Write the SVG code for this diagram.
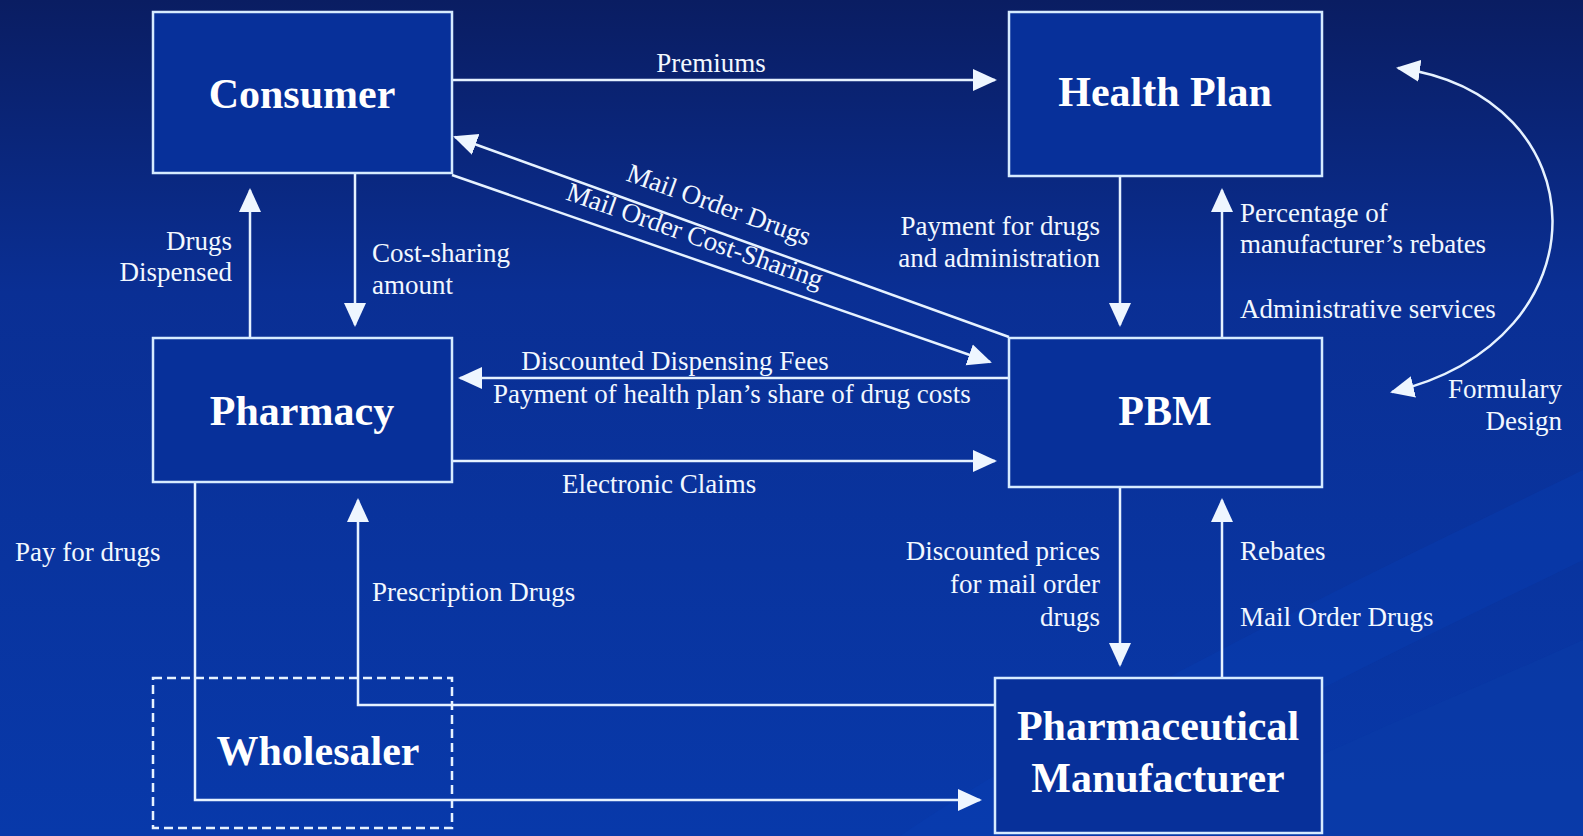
<svg xmlns="http://www.w3.org/2000/svg" width="1583" height="836" viewBox="0 0 1583 836">
<defs>
<linearGradient id="bg" x1="0" y1="0" x2="0" y2="1">
<stop offset="0" stop-color="#0a1d62"/>
<stop offset="0.35" stop-color="#0a2f94"/>
<stop offset="1" stop-color="#0839aa"/>
</linearGradient>
<marker id="ah" viewBox="0 0 24 24" refX="22" refY="12" markerWidth="24" markerHeight="24" markerUnits="userSpaceOnUse" orient="auto-start-reverse">
<path d="M0,1 L24,12 L0,23 Z" fill="#eef6ff"/>
</marker>
<style>
.box{fill:#07309a;stroke:#d6ebff;stroke-width:2.5}
.dash{fill:none;stroke:#e6f2ff;stroke-width:2.5;stroke-dasharray:9 5}
.ln{fill:none;stroke:#e6f2ff;stroke-width:2.5}
.arr{fill:none;stroke:#e6f2ff;stroke-width:2.5;marker-end:url(#ah)}
.ttl{font-family:"Liberation Serif","Times New Roman",serif;font-weight:bold;font-size:42px;fill:#ffffff;text-anchor:middle}
.lbl{font-family:"Liberation Serif","Times New Roman",serif;font-size:27px;fill:#f2f8ff}
.r{text-anchor:end}
.m{text-anchor:middle}
</style>
</defs>
<rect width="1583" height="836" fill="url(#bg)"/>
<path d="M900,836 C1100,700 1400,560 1583,470 L1583,560 C1420,640 1200,740 1080,836 Z" fill="#0a40b4" opacity="0.35"/>
<path d="M1150,836 C1300,760 1450,700 1583,640 L1583,836 Z" fill="#0a3ba8" opacity="0.5"/>

<g id="connectors">
<path class="arr" d="M452,80 H995"/>
<text class="lbl m" x="711" y="72">Premiums</text>

<path class="arr" d="M355,173 V325"/>
<text class="lbl" x="372" y="262">Cost-sharing</text>
<text class="lbl" x="372" y="294">amount</text>

<path class="arr" d="M250,338 V190"/>
<text class="lbl r" x="232" y="250">Drugs</text>
<text class="lbl r" x="232" y="281">Dispensed</text>

<path class="arr" d="M1009,337 L455,137"/>
<text class="lbl m" transform="translate(716,213) rotate(19.85)">Mail Order Drugs</text>

<path class="arr" d="M452,175 L990,362"/>
<text class="lbl m" transform="translate(692,244) rotate(19.4)">Mail Order Cost-Sharing</text>

<path class="arr" d="M1009,378 H460"/>
<text class="lbl m" x="675" y="370">Discounted Dispensing Fees</text>
<text class="lbl" x="493" y="403">Payment of health plan’s share of drug costs</text>

<path class="arr" d="M452,461 H995"/>
<text class="lbl" x="562" y="493">Electronic Claims</text>

<path class="arr" d="M1120,176 V325"/>
<text class="lbl r" x="1100" y="235">Payment for drugs</text>
<text class="lbl r" x="1100" y="267">and administration</text>

<path class="arr" d="M1222,338 V190"/>
<text class="lbl" x="1240" y="222">Percentage of</text>
<text class="lbl" x="1240" y="253">manufacturer’s rebates</text>
<text class="lbl" x="1240" y="318">Administrative services</text>

<path class="ln" d="M1398,68 C1600,95 1610,340 1392,392" marker-start="url(#ah)" marker-end="url(#ah)"/>
<text class="lbl r" x="1562" y="398">Formulary</text>
<text class="lbl r" x="1562" y="430">Design</text>

<path class="arr" d="M1120,487 V665"/>
<text class="lbl r" x="1100" y="560">Discounted prices</text>
<text class="lbl r" x="1100" y="593">for mail order</text>
<text class="lbl r" x="1100" y="626">drugs</text>

<path class="arr" d="M1222,678 V500"/>
<text class="lbl" x="1240" y="560">Rebates</text>
<text class="lbl" x="1240" y="626">Mail Order Drugs</text>

<path class="arr" d="M995,705 H358 V500"/>
<text class="lbl" x="372" y="601">Prescription Drugs</text>

<path class="arr" d="M195,482 V800 H980"/>
<text class="lbl" x="15" y="561">Pay for drugs</text>
</g>

<g id="consumer">
<rect class="box" x="153" y="12" width="299" height="161"/>
<text class="ttl" x="302" y="108">Consumer</text>
</g>
<g id="health-plan">
<rect class="box" x="1009" y="12" width="313" height="164"/>
<text class="ttl" x="1165" y="106">Health Plan</text>
</g>
<g id="pharmacy">
<rect class="box" x="153" y="338" width="299" height="144"/>
<text class="ttl" x="302" y="425">Pharmacy</text>
</g>
<g id="pbm">
<rect class="box" x="1009" y="338" width="313" height="149"/>
<text class="ttl" x="1165" y="425">PBM</text>
</g>
<g id="manufacturer">
<rect class="box" x="995" y="678" width="327" height="155"/>
<text class="ttl" x="1158" y="740">Pharmaceutical</text>
<text class="ttl" x="1158" y="792">Manufacturer</text>
</g>
<g id="wholesaler">
<rect class="dash" x="153" y="678" width="299" height="150"/>
<text class="ttl" x="318" y="765">Wholesaler</text>
</g>
</svg>
